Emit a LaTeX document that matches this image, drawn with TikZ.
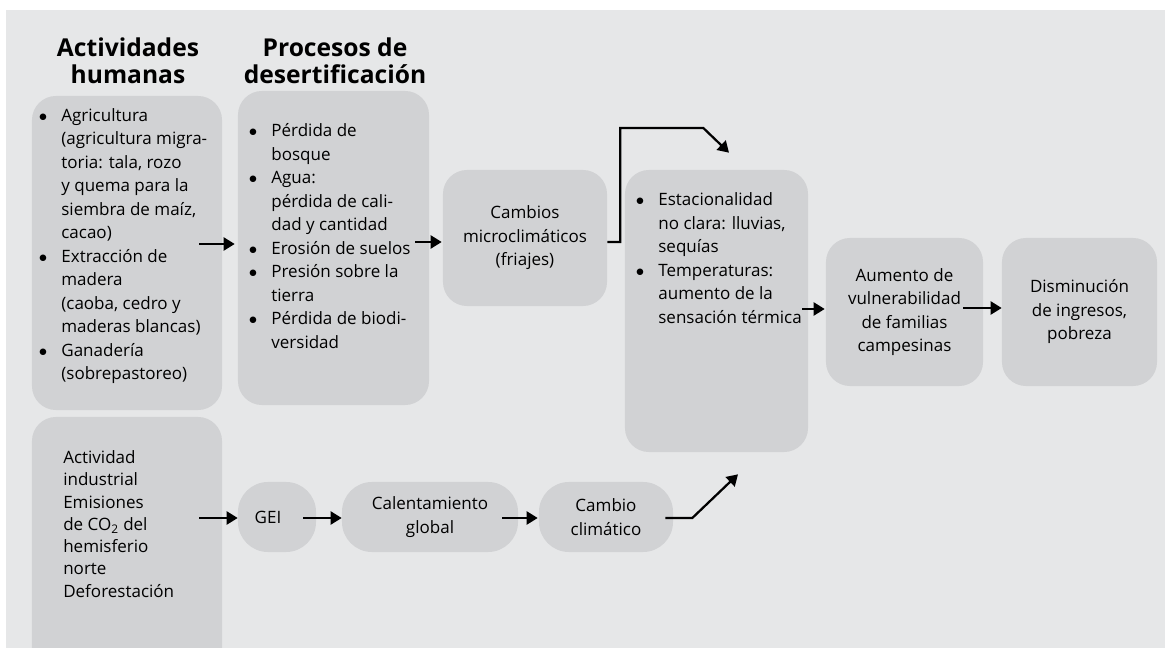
\documentclass[tikz,border=0pt]{standalone}
\usepackage{fontspec}
\setmainfont{Open Sans}
\usetikzlibrary{arrows.meta}
\definecolor{bggray}{RGB}{230,231,232}
\definecolor{boxgray}{RGB}{209,210,212}
\newcommand{\bul}{\makebox[15pt][l]{\hspace*{-1pt}$\bullet$}}
\newcommand{\ind}{\hspace*{15pt}}
\begin{document}
\begin{tikzpicture}[x=0.025cm, y=-0.025cm,
  box/.style={rectangle, rounded corners=0.6cm, fill=boxgray, inner sep=0pt},
  pill/.style={rectangle, rounded corners=0.75cm, fill=boxgray, inner sep=0pt, minimum height=1.75cm, align=center, font=\fontsize{12.1pt}{16.7pt}\selectfont},
  txt/.style={align=left, inner sep=0pt, font=\fontsize{12.1pt}{16.7pt}\selectfont},
  head/.style={align=center, inner sep=0pt, font=\fontsize{17.5pt}{19pt}\selectfont\bfseries},
  arr/.style={line width=1.6pt, -{Triangle[length=7.8pt,width=9.2pt]}}]
\useasboundingbox (0,0) rectangle (1165,648);
\clip (0,0) rectangle (1165,648);
\fill[bggray] (6,10) rectangle (1165,648);
\node[head] (hact) at (128,61) {Actividades\\humanas};
\node[head] (hproc) at (335,61) {Procesos de\\desertificación};
\node[box, minimum width=4.75cm, minimum height=7.85cm] (act) at (127,253) {};
\node[txt, anchor=west] (actT) at (40,246) {\bul Agricultura\\
\ind (agricultura migra-\\
\ind toria: tala, rozo\\
\ind y quema para la\\
\ind siembra de maíz,\\
\ind cacao)\\
\bul Extracción de\\
\ind madera\\
\ind (caoba, cedro y\\
\ind maderas blancas)\\
\bul Ganadería\\
\ind (sobrepastoreo)};
\node[box, minimum width=4.775cm, minimum height=7.85cm] (proc) at (333.5,248) {};
\node[txt, anchor=west] (procT) at (250,236) {\bul Pérdida de\\
\ind bosque\\
\bul Agua:\\
\ind pérdida de cali-\\
\ind dad y cantidad\\
\bul Erosión de suelos\\
\bul Presión sobre la\\
\ind tierra\\
\bul Pérdida de biodi-\\
\ind versidad};
\node[box, txt, align=center, minimum width=4.1cm, minimum height=3.4cm] (micro) at (525,238) {Cambios\\microclimáticos\\(friajes)};
\node[box, minimum width=4.575cm, minimum height=7.05cm] (estac) at (716.5,311) {};
\node[txt, anchor=west] (estacT) at (637,258) {\bul Estacionalidad\\
\ind no clara: lluvias,\\
\ind sequías\\
\bul Temperaturas:\\
\ind aumento de la\\
\ind sensación térmica};
\node[box, txt, align=center, minimum width=3.925cm, minimum height=3.7cm] (vuln) at (904.5,312) {Aumento de\\vulnerabilidad\\de familias\\campesinas};
\node[box, txt, align=center, minimum width=3.875cm, minimum height=3.7cm] (ingr) at (1079.5,312) {Disminución\\de ingresos,\\pobreza};
\node[box, minimum width=4.75cm, minimum height=6.6cm] (indus) at (127,549) {};
\node[txt, anchor=west, font=\fontsize{12.1pt}{15.8pt}\selectfont] (indusT) at (63,524) {Actividad\\
industrial\\
Emisiones\\
de CO\textsubscript{2} del\\
hemisferio\\
norte\\
Deforestación};
\node[pill, minimum width=1.95cm] (gei) at (277,517) {GEI\hspace*{12.8pt}};
\node[pill, minimum width=4.4cm] (calent) at (430,517) {Calentamiento\\global};
\node[pill, minimum width=3.35cm] (cambio) at (606,517) {Cambio\\climático};
\draw[arr] ([shift={(-23,-9)}]act.east) -- ([shift={(-3,-4)}]proc.west);
\draw[arr] ([shift={(-14,-6)}]proc.east) -- ([shift={(-1,4)}]micro.west);
\draw[arr] ([shift={(0,4)}]micro.east) -- ++(13,0) -- ++(0,-114) -- ++(83,0) -- ([shift={(12.5,-17)}]estac.north);
\draw[arr] ([shift={(-6,-2)}]estac.east) -- ([shift={(-1,-3)}]vuln.west);
\draw[arr] ([shift={(-20,-4)}]vuln.east) -- ([shift={(0,-4)}]ingr.west);
\draw[arr] ([shift={(-23,-31)}]indus.east) -- ([shift={(0,1)}]gei.west);
\draw[arr] ([shift={(-13,1)}]gei.east) -- ([shift={(0,1)}]calent.west);
\draw[arr] ([shift={(-16,1)}]calent.east) -- ([shift={(-1,1)}]cambio.west);
\draw[arr] ([shift={(-8,1)}]cambio.east) -- ++(27,0) -- ([shift={(21.5,22)}]estac.south);
\end{tikzpicture}
\end{document}
